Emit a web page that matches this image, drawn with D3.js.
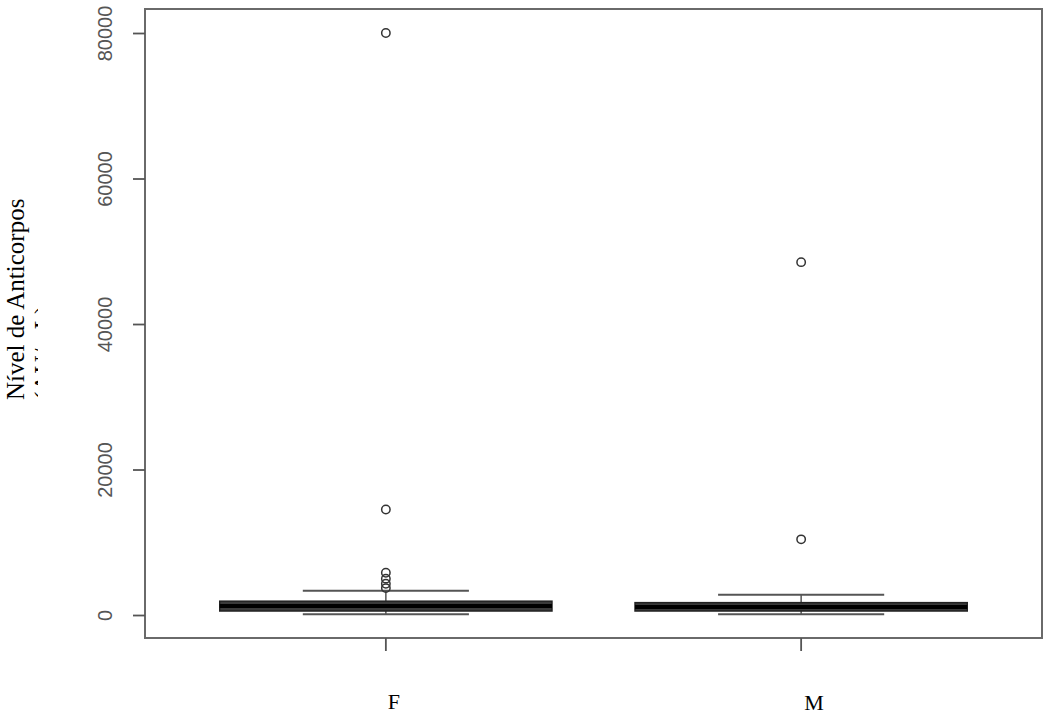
<!DOCTYPE html>
<html>
<head>
<meta charset="utf-8">
<script src="https://cdn.jsdelivr.net/npm/d3@7"></script>
<style>
  html, body { margin: 0; padding: 0; background: #fff; }
  svg { display: block; }
</style>
</head>
<body>
<svg id="chart" width="1049" height="715"></svg>
<script>
// ---- data ----
const categories = ["F", "M"];
const whiskerLow = [100, 100];
const q1 = [550, 550];
const medians = [1250, 1100];
const q3 = [1900, 1700];
const whiskerHigh = [3350, 2800];
const outliersF = [80000, 14500, 5800, 5000, 4300, 3700];
const outliersM = [48500, 10400];
const yTicks = [0, 20000, 40000, 60000, 80000];
const yTitle = "Nível de Anticorpos";
const yTitle2 = "(AU/mL)";

const outliers = [outliersF, outliersM];

// ---- layout ----
const svg = d3.select("#chart");
const plot = { left: 145, right: 1042, top: 9, bottom: 638 };

const x = d3.scaleBand()
  .domain(categories)
  .range([plot.left, plot.right])
  .paddingInner(0)
  .paddingOuter(0.08);

const y = d3.scaleLinear()
  .domain([-3160, 83300])
  .range([plot.bottom, plot.top]);

const bw = x.bandwidth();
const cx = c => x(c) + bw / 2;

// ---- boxes ----
const groups = svg.append("g").selectAll("g")
  .data(categories)
  .join("g");

// whisker connectors
groups.append("line")
  .attr("x1", d => cx(d)).attr("x2", d => cx(d))
  .attr("y1", (d, i) => y(q3[i])).attr("y2", (d, i) => y(whiskerHigh[i]))
  .attr("stroke", "#555").attr("stroke-width", 1.5);
groups.append("line")
  .attr("x1", d => cx(d)).attr("x2", d => cx(d))
  .attr("y1", (d, i) => y(q1[i])).attr("y2", (d, i) => y(whiskerLow[i]))
  .attr("stroke", "#555").attr("stroke-width", 1.5);

// whisker caps
[whiskerHigh, whiskerLow].forEach(arr => {
  groups.append("line")
    .attr("x1", d => cx(d) - bw * 0.2).attr("x2", d => cx(d) + bw * 0.2)
    .attr("y1", (d, i) => y(arr[i])).attr("y2", (d, i) => y(arr[i]))
    .attr("stroke", "#555").attr("stroke-width", 2);
});

// box
groups.append("rect")
  .attr("x", d => cx(d) - bw * 0.4)
  .attr("width", bw * 0.8)
  .attr("y", (d, i) => y(q3[i]))
  .attr("height", (d, i) => y(q1[i]) - y(q3[i]))
  .attr("fill", "#3a3a3a")
  .attr("stroke", "#222")
  .attr("stroke-width", 1.5);

// median
groups.append("line")
  .attr("x1", d => cx(d) - bw * 0.4).attr("x2", d => cx(d) + bw * 0.4)
  .attr("y1", (d, i) => y(medians[i])).attr("y2", (d, i) => y(medians[i]))
  .attr("stroke", "#000").attr("stroke-width", 4);

// outliers
groups.each(function (d, i) {
  d3.select(this).selectAll("circle")
    .data(outliers[i])
    .join("circle")
    .attr("cx", cx(d))
    .attr("cy", v => y(v))
    .attr("r", 4.2)
    .attr("fill", "none")
    .attr("stroke", "#333")
    .attr("stroke-width", 1.5);
});

// ---- frame ----
svg.append("rect")
  .attr("x", plot.left).attr("y", plot.top)
  .attr("width", plot.right - plot.left)
  .attr("height", plot.bottom - plot.top)
  .attr("fill", "none")
  .attr("stroke", "#6a6a6a")
  .attr("stroke-width", 2);

// ---- y axis ----
const yAxis = svg.append("g")
  .attr("transform", `translate(${plot.left},0)`)
  .call(d3.axisLeft(y).tickValues(yTicks).tickSize(12).tickFormat(d3.format("d")));
yAxis.select(".domain").remove();
yAxis.selectAll(".tick line").attr("stroke", "#555").attr("stroke-width", 1.8);
yAxis.selectAll(".tick text")
  .attr("transform", "rotate(-90)")
  .attr("x", 0)
  .attr("y", -33)
  .attr("dy", null)
  .attr("text-anchor", "middle")
  .attr("fill", "#555")
  .style("font-family", "'Liberation Sans', Arial, sans-serif")
  .style("font-size", "20px");

// ---- x axis ----
const xAxis = svg.append("g")
  .attr("transform", `translate(0,${plot.bottom})`)
  .call(d3.axisBottom(x).tickSize(13));
xAxis.select(".domain").remove();
xAxis.selectAll(".tick line").attr("stroke", "#555").attr("stroke-width", 1.8);
xAxis.selectAll(".tick text")
  .attr("dy", null)
  .attr("x", (d, i) => 8 + 5 * i)
  .attr("y", (d, i) => 71 + i)
  .attr("fill", "#000")
  .style("font-family", "'Liberation Serif', 'Times New Roman', serif")
  .style("font-size", "22px");

// ---- y title ----
const defs = svg.append("defs");
defs.append("clipPath").attr("id", "titleClip")
  .append("rect").attr("x", 0).attr("y", 0).attr("width", 38).attr("height", 715);

const titleG = svg.append("g").attr("clip-path", "url(#titleClip)")
  .append("g").attr("transform", "translate(24,400) rotate(-90)");
titleG.append("text")
  .attr("x", 0).attr("y", 0)
  .attr("text-anchor", "start")
  .attr("fill", "#000")
  .style("font-family", "'Liberation Serif', 'Times New Roman', serif")
  .style("font-size", "25px")
  .text(yTitle);
titleG.append("text")
  .attr("x", 0).attr("y", 28)
  .attr("text-anchor", "start")
  .attr("fill", "#000")
  .style("font-family", "'Liberation Serif', 'Times New Roman', serif")
  .style("font-size", "25px")
  .text(yTitle2);
</script>
</body>
</html>
